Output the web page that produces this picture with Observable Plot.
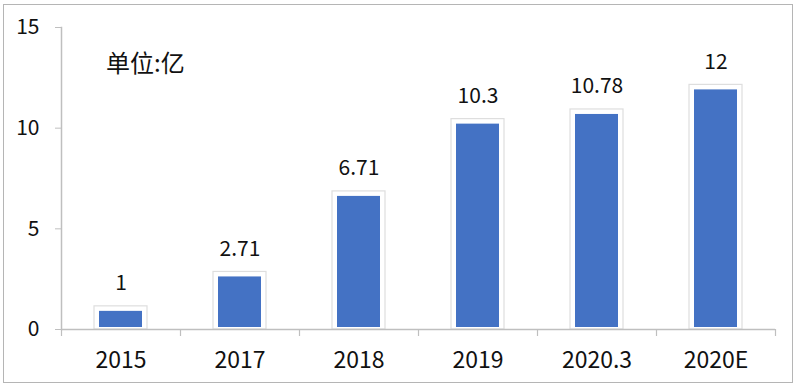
<!DOCTYPE html>
<html>
<head>
<meta charset="utf-8">
<script src="https://cdn.jsdelivr.net/npm/d3@7"></script>
<script src="https://cdn.jsdelivr.net/npm/@observablehq/plot@0.6"></script>
<style>
  html, body { margin: 0; padding: 0; background: #fff; }
  #wrap { position: relative; width: 800px; height: 387px; overflow: hidden; background: #fff; }
  #frame { position: absolute; left: 3px; top: 4px; width: 790px; height: 379px; border: 1.5px solid #b5b5b5; box-sizing: border-box; pointer-events: none; }
  #unit { position: absolute; left: 106px; top: 50px; font: 24px/1 "Noto Sans CJK SC", sans-serif; color: #111; }
  #chart { position: absolute; left: 0; top: 0; }
</style>
</head>
<body>
<div id="wrap">
  <div id="chart"></div>
  <div id="unit">单位:亿</div>
  <div id="frame"></div>
</div>
<script>
const categories = ["2015", "2017", "2018", "2019", "2020.3", "2020E"];
const values = [1, 2.71, 6.71, 10.3, 10.78, 12];
const valueLabels = ["1", "2.71", "6.71", "10.3", "10.78", "12"];
const yTicks = [0, 5, 10, 15];

const data = categories.map((c, i) => ({cat: c, value: values[i], label: valueLabels[i]}));
const font = "'Noto Sans CJK SC', 'Noto Sans', sans-serif";

const chart = Plot.plot({
  width: 800,
  height: 387,
  marginLeft: 61,
  marginRight: 25,
  marginTop: 27,
  marginBottom: 58,
  style: {fontFamily: font, fontSize: "20px", color: "#111", background: "transparent"},
  x: {domain: categories, paddingInner: 0.64, paddingOuter: 0.32, label: null},
  y: {domain: [0, 15], label: null},
  marks: [
    Plot.barY(data, {x: "cat", y: "value", fill: "white", stroke: "#dedede", strokeWidth: 1.2, insetLeft: -5, insetRight: -5, insetTop: -3}),
    Plot.barY(data, {x: "cat", y: "value", fill: "#4472C4", insetBottom: 2, insetTop: 2}),
    Plot.text(data, {x: "cat", y: "value", text: "label", dy: -26, fontSize: 21, fill: "#111"}),
    Plot.ruleY([0], {stroke: "#bfbfbf", strokeWidth: 1.5}),
    Plot.frame({anchor: "left", stroke: "#bfbfbf", strokeWidth: 1.5}),
    Plot.ruleX(categories, {x: d => d, y1: 0, y2: 0, dx: -59.5, insetBottom: -7, stroke: "#bfbfbf", strokeWidth: 1.2}),
    Plot.ruleX(categories.slice(-1), {x: d => d, y1: 0, y2: 0, dx: 59.5, insetBottom: -7, stroke: "#bfbfbf", strokeWidth: 1.2}),
    Plot.axisY({ticks: yTicks, tickSize: 6, tickPadding: 16, stroke: "#bfbfbf", fontSize: 21, fill: "#111"}),
    Plot.axisX({tickSize: 0, tickPadding: 22, fontSize: 23, fill: "#111"})
  ]
});
document.getElementById("chart").appendChild(chart);
</script>
</body>
</html>
